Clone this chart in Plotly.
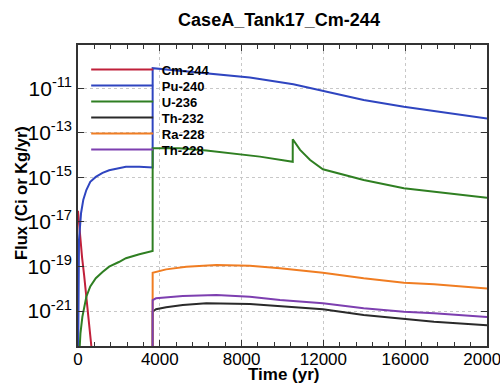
import plotly.graph_objects as go

# ---------------- data ----------------
series_names = ["Cm-244", "Pu-240", "U-236", "Th-232", "Ra-228", "Th-228"]
series_colors = ["#c0203a", "#2f45c0", "#2f7f22", "#2a2a2a", "#f07d22", "#7d3fb0"]

cm244_t = [0, 100, 200, 300, 400, 500, 600, 700]
cm244_logv = [-16.5, -17.7, -18.6, -19.4, -20.2, -21.1, -22.1, -23.0]

pu240_t = [0, 20, 49, 150, 260, 408, 600, 870, 1200, 1523, 2000, 2343, 3000, 3572, 3650, 3651,
           5000, 6585, 8403, 10530, 11975, 13970, 15936, 17410, 20000]
pu240_logv = [-24.0, -20.5, -17.8, -16.6, -16.0, -15.57, -15.2, -14.98, -14.8, -14.68, -14.6, -14.53, -14.52,
              -14.56, -14.56, -10.10, -10.22, -10.36, -10.52, -10.82, -11.12, -11.53, -11.83, -12.02, -12.36]

u236_t = [60, 120, 213, 300, 408, 600, 870, 1200, 1523, 2000, 2343, 3000, 3572, 3650, 3651,
          4963, 6275, 8403, 8894, 10500, 10501, 10860, 11351, 11975, 13970, 15936, 17410, 20000]
u236_logv = [-23.0, -22.0, -21.26, -20.8, -20.36, -19.9, -19.53, -19.25, -19.01, -18.8, -18.63, -18.45,
             -18.34, -18.3, -13.69, -13.69, -13.80, -14.0, -14.07, -14.30, -13.29, -13.77, -14.22,
             -14.64, -15.12, -15.49, -15.64, -15.92]

th232_t = [3640, 3651, 3815, 4310, 5125, 6275, 8403, 9877, 11975, 13970, 15936, 17410, 20000]
th232_logv = [-30.0, -21.03, -20.92, -20.83, -20.73, -20.65, -20.69, -20.78, -20.92, -21.18, -21.37, -21.48, -21.64]

ra228_t = [3640, 3651, 4310, 5292, 6766, 8403, 9877, 11975, 13970, 15936, 17410, 20000]
ra228_logv = [-30.0, -19.28, -19.13, -19.01, -18.93, -18.97, -19.08, -19.28, -19.53, -19.73, -19.80, -19.99]

th228_t = [3640, 3651, 3815, 5125, 6766, 8403, 9877, 11975, 13970, 15936, 17410, 20000]
th228_logv = [-30.0, -20.51, -20.43, -20.33, -20.28, -20.36, -20.51, -20.65, -20.88, -21.03, -21.10, -21.27]

x_tickvals = [0, 4000, 8000, 12000, 16000, 20000]
x_ticklabels = ["0", "4000", "8000", "12000", "16000", "20000"]
y_tick_exps = [-21, -19, -17, -15, -13, -11]

series_t = [cm244_t, pu240_t, u236_t, th232_t, ra228_t, th228_t]
series_logv = [cm244_logv, pu240_logv, u236_logv, th232_logv, ra228_logv, th228_logv]

# ---------------- figure ----------------
FONT = "Liberation Sans, Arial, sans-serif"
L, R, T, B = 78, 13, 45, 38
W, H = 500, 384
plot_w = W - L - R
plot_h = H - T - B
legend_rows_px = [69.5, 85.5, 101.5, 117.5, 133.5, 149.5]

fig = go.Figure()
layout_legends = {}
for i, (name, color, t, lv) in enumerate(zip(series_names, series_colors, series_t, series_logv)):
    lg = "legend" if i == 0 else "legend%d" % (i + 1)
    fig.add_trace(go.Scatter(
        x=t, y=[10 ** v for v in lv], mode="lines", name="\u00a0" + name,
        line=dict(color=color, width=2), legend=lg,
    ))
    layout_legends[lg] = dict(
        x=0.02, y=1 - (legend_rows_px[i] - T) / plot_h, xanchor="left", yanchor="middle",
        bgcolor="rgba(0,0,0,0)", borderwidth=0,
        font=dict(size=13, family=FONT, weight="bold", color="black"),
        itemwidth=62,
    )

fig.update_layout(
    width=W, height=H,
    margin=dict(l=L, r=R, t=T, b=B),
    paper_bgcolor="white", plot_bgcolor="white",
    font=dict(family=FONT, color="black"),
    title=dict(text="CaseA_Tank17_Cm-244", x=0.558, xanchor="center",
               y=1 - 20 / H, yanchor="middle", font=dict(size=18, weight="bold")),
    showlegend=True,
    **layout_legends,
)

fig.update_xaxes(
    range=[0, 20000], tickmode="array", tickvals=x_tickvals, ticktext=x_ticklabels,
    ticks="inside", ticklen=6, tickwidth=1, tickcolor="#333",
    minor=dict(dtick=800, tick0=0, ticks="inside", ticklen=4, tickcolor="#333", showgrid=False),
    showline=True, linecolor="#333", linewidth=1.5, mirror="ticks",
    showgrid=True, gridcolor="#c8c8c8", griddash="dot", gridwidth=1,
    tickfont=dict(size=17), zeroline=False, automargin=False, ticklabeloverflow="allow",
    ticklabelstandoff=-3,
)

fig.update_yaxes(
    type="log", range=[-22.57, -9.06],
    tickmode="array", tickvals=[10 ** e for e in y_tick_exps],
    ticktext=["10<sup>%d</sup>" % e for e in y_tick_exps],
    ticks="inside", ticklen=6, tickwidth=1, tickcolor="#333",
    showline=True, linecolor="#333", linewidth=1.5, mirror="ticks",
    showgrid=True, gridcolor="#c8c8c8", griddash="dot", gridwidth=1,
    tickfont=dict(size=21), zeroline=False, automargin=False,
)

fig.add_annotation(
    text="Flux (Ci or Kg/yr)", xref="paper", yref="paper",
    x=(21 - L) / plot_w, y=1 - (193 - T) / plot_h, textangle=-90, showarrow=False,
    font=dict(size=16.5, weight="bold"), xanchor="center", yanchor="middle",
)
fig.add_annotation(
    text="Time (yr)", xref="paper", yref="paper",
    x=(284 - L) / plot_w, y=-(374 - (H - B)) / plot_h, showarrow=False,
    font=dict(size=17, weight="bold"), xanchor="center", yanchor="middle",
)

fig.write_html("out.html", config={"displayModeBar": False},
               post_script="document.body.style.margin='0';document.body.style.overflow='hidden';")
